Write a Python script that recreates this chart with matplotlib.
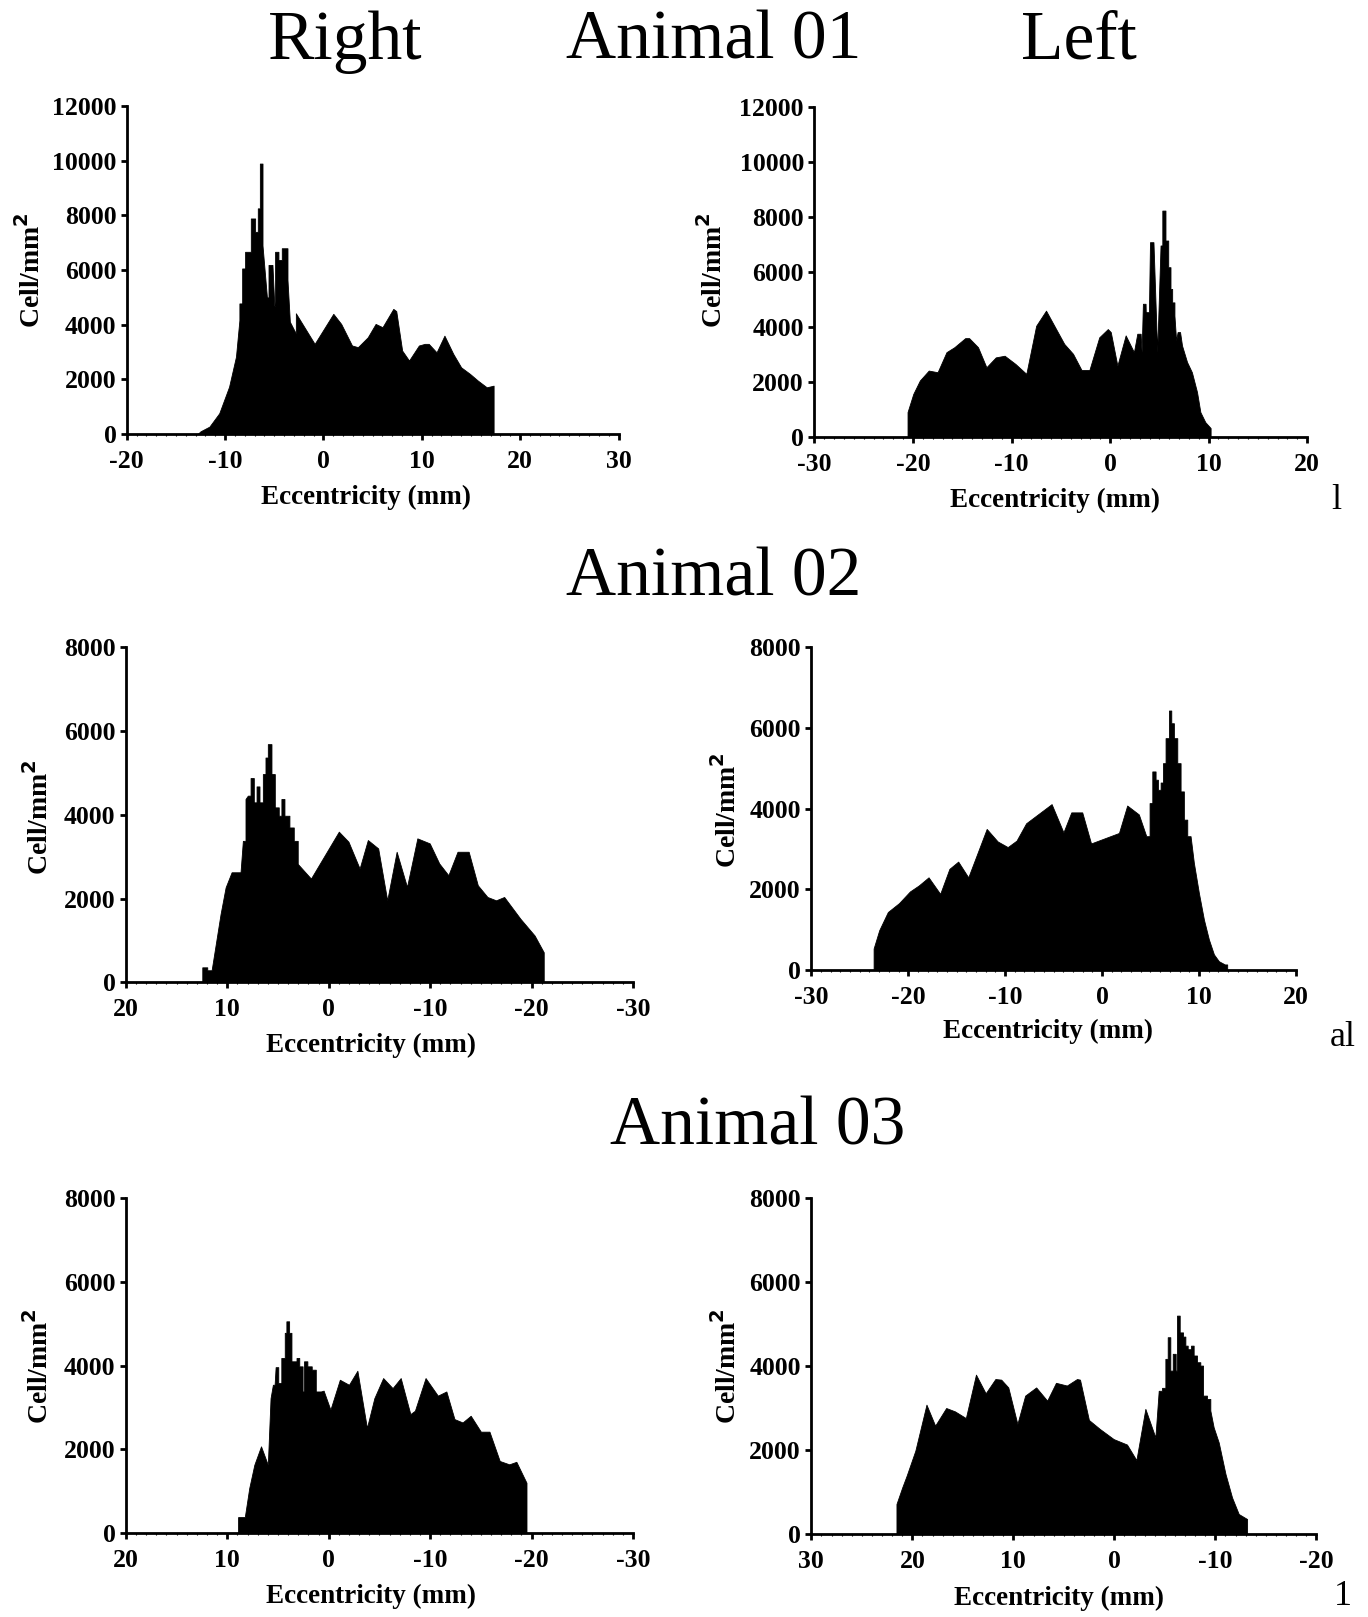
import matplotlib
matplotlib.use("Agg")
import matplotlib.pyplot as plt
from matplotlib.ticker import MultipleLocator

plt.rcParams['font.family'] = ['Liberation Serif', 'DejaVu Serif']
plt.rcParams['axes.unicode_minus'] = False

# ---------------- data (eccentricity mm, cells/mm^2) ----------------
a1_right_x = [-12.8, -12.5, -11.6, -10.6, -9.6, -8.9, -8.55, -8.55, -8.27, -8.27, -7.97, -7.97,
              -7.39, -7.39, -6.95, -6.95, -6.68, -6.68, -6.47, -6.47, -6.2, -6.2, -5.75, -5.59,
              -5.59, -5.19, -5.0, -4.92, -4.92, -4.58, -4.58, -4.24, -4.24, -3.66, -3.66, -3.42,
              -2.81, -2.81, -0.9, 1.0, 1.8, 2.9, 3.5, 4.5, 5.3, 6.0, 7.1, 7.4, 8.0, 8.7, 9.7,
              10.3, 10.7, 11.5, 12.3, 13.2, 14.0, 14.9, 15.7, 16.6, 17.3]
a1_right_y = [0, 100, 270, 760, 1730, 2830, 4170, 4780, 4780, 6060, 6060, 6670,
              6670, 7890, 7890, 7400, 7400, 8260, 8260, 9900, 9900, 6900, 5000, 5000,
              6190, 6190, 4700, 4700, 6670, 6670, 6370, 6370, 6800, 6800, 5640, 4110,
              3680, 4420, 3300, 4400, 4030, 3240, 3180, 3540, 4030, 3910, 4580, 4500, 3055, 2690, 3240,
              3300, 3300, 2990, 3600, 2930, 2440, 2200, 1955, 1710, 1770]

a1_left_x = [-20.55, -19.97, -19.3, -18.4, -17.5, -16.6, -15.8, -14.7, -14.3, -13.4, -12.55,
             -11.6, -10.7, -9.6, -8.5, -7.5, -6.5, -4.65, -3.76, -2.9, -2.1, -1.1, -0.23, 0.07,
             0.74, 1.58, 2.42, 2.76, 3.1, 3.2, 3.33, 3.6, 3.62, 3.94, 4.05, 4.4, 4.78, 5.12,
             5.3, 5.3, 5.62, 5.62, 5.9, 5.9, 6.13, 6.13, 6.3, 6.3, 6.53, 6.53, 6.7, 6.85,
             7.1, 7.3, 7.81, 8.3, 8.82, 9.16, 9.66, 10.2]
a1_left_y = [910, 1570, 2060, 2420, 2360, 3090, 3270, 3600, 3600, 3270, 2540,
             2900, 2960, 2660, 2300, 4050, 4600, 3390, 3030, 2440, 2440, 3630, 3930, 3820,
             2600, 3700, 3090, 3760, 3760, 3090, 4850, 4850, 4545, 4545, 7090, 7090, 3090, 6970,
             6970, 8240, 8240, 7150, 7150, 6180, 6180, 5390, 5390, 4900, 4900, 4420, 3515, 3820,
             3820, 3330, 2730, 2360, 1640, 910, 545, 330]

a2_right_x = [12.46, 11.97, 11.97, 11.54, 10.66, 10.16, 9.57, 8.69, 8.46, 8.2, 8.2, 7.97, 7.7,
              7.7, 7.38, 7.38, 7.11, 7.11, 6.82, 6.82, 6.49, 6.49, 6.23, 6.23, 6.0, 6.0, 5.64,
              5.64, 5.31, 5.31, 4.92, 4.92, 4.66, 4.66, 4.36, 4.36, 3.87, 3.87, 3.44, 3.44, 3.05,
              3.05, 2.64, 1.75, -1.0, -1.95, -3.05, -3.86, -4.88, -5.77, -6.7, -7.72, -8.74,
              -9.96, -10.9, -11.8, -12.7, -13.8, -14.7, -15.65, -16.5, -17.3, -18.9, -20.3, -21.2]
a2_right_y = [360, 360, 290, 290, 1630, 2270, 2630, 2630, 3380, 3380, 4380, 4460, 4460,
              4880, 4880, 4300, 4300, 4680, 4680, 4300, 4300, 4975, 4975, 5370, 5370, 5690, 5690,
              4975, 4975, 4180, 4180, 3980, 3980, 4380, 4380, 3980, 3980, 3700, 3700, 3380, 3380,
              2830, 2720, 2480, 3600, 3360, 2720, 3400, 3200, 1960, 3120, 2280, 3440,
              3320, 2840, 2560, 3120, 3120, 2320, 2040, 1960, 2040, 1520, 1120, 720]

a2_left_x = [-23.57, -22.99, -22.1, -20.95, -19.82, -18.9, -17.9, -16.7, -15.75, -14.84, -13.8,
             -11.9, -10.77, -9.73, -8.82, -7.83, -5.2, -3.98, -3.17, -2.04, -1.13, 1.75, 2.6,
             3.8, 4.57, 4.91, 4.91, 5.19, 5.19, 5.53, 5.53, 5.77, 5.77, 6.05, 6.05, 6.29, 6.29,
             6.56, 6.56, 6.91, 6.91, 7.15, 7.15, 7.42, 7.42, 7.77, 7.77, 8.11, 8.11, 8.45, 8.45,
             8.8, 8.8, 9.14, 9.48, 10.0, 10.52, 11.03, 11.55, 12.06, 12.68, 12.92]
a2_left_y = [535, 990, 1440, 1660, 1950, 2100, 2300, 1890, 2510, 2690, 2300,
             3500, 3190, 3050, 3210, 3640, 4115, 3415, 3910, 3910, 3140, 3400, 4080,
             3860, 3320, 3320, 4140, 4140, 4925, 4925, 4720, 4720, 4470, 4470, 4650, 4650, 5130,
             5130, 5750, 5750, 6435, 6435, 6120, 6120, 5750, 5750, 5130, 5130, 4430, 4430, 3730,
             3730, 3320, 3320, 2660, 1910, 1250, 760, 390, 220, 140, 140]

a3_right_x = [8.93, 8.27, 7.83, 7.33, 6.67, 6.0, 5.73, 5.5, 5.33, 5.23, 4.97, 4.97, 4.67, 4.67,
              4.33, 4.33, 4.17, 4.17, 3.9, 3.9, 3.67, 3.67, 3.17, 3.17, 2.9, 2.9, 2.57, 2.57,
              2.43, 2.43, 2.1, 2.1, 1.67, 1.67, 1.27, 1.27, 0.77, 0.5, -0.17, -1.1, -2.0, -2.83,
              -3.77, -4.5, -5.37, -6.3, -7.1, -8.05, -8.5, -9.55, -10.76, -11.6, -12.4, -13.2,
              -14.0, -15.0, -15.85, -16.86, -17.8, -18.5, -19.5]
a3_right_y = [380, 380, 1075, 1630, 2070, 1630, 3220, 3540, 3540, 3960, 3960, 3580, 3580, 4180,
              4180, 4780, 4780, 5055, 5055, 4780, 4780, 4100, 4100, 4180, 4180, 3980, 3980, 3380,
              3380, 4100, 4100, 3980, 3980, 3900, 3900, 3380, 3380, 3400, 2945, 3660, 3540, 3875,
              2510, 3220, 3700, 3460, 3700, 2840, 2920, 3700, 3280, 3380, 2720, 2640,
              2800, 2420, 2420, 1720, 1640, 1700, 1200]

a3_left_x = [21.57, 21.0, 20.56, 19.7, 18.6, 17.74, 16.65, 15.78, 14.7, 13.7, 12.74, 11.78, 11.2,
             10.5, 9.6, 8.83, 7.74, 6.65, 5.78, 4.7, 3.7, 3.4, 2.52, 1.43, 0.07, -1.25, -2.18,
             -3.07, -4.06, -4.39, -4.72, -4.72, -5.05, -5.05, -5.28, -5.28, -5.54, -5.54, -5.78,
             -5.78, -6.07, -6.07, -6.2, -6.2, -6.47, -6.47, -6.8, -6.8, -7.03, -7.03, -7.26,
             -7.26, -7.59, -7.59, -7.85, -7.85, -8.18, -8.18, -8.51, -8.51, -8.78, -8.78, -9.17,
             -9.17, -9.5, -9.5, -9.83, -10.33, -11.0, -11.65, -12.31, -13.14]
a3_left_y = [715, 1110, 1390, 1985, 3080, 2580, 3000, 2920, 2760, 3795, 3350, 3690, 3675,
             3490, 2620, 3295, 3490, 3175, 3600, 3535, 3690, 3675, 2715, 2500, 2260, 2130, 1760,
             2980, 2300, 3410, 3410, 3480, 3480, 4170, 4170, 4685, 4685, 3890, 3890,
             4290, 4290, 3890, 3890, 5200, 5200, 4800, 4800, 4700, 4700, 4485, 4485,
             4400, 4400, 4485, 4485, 4250, 4250, 4090, 4090, 4010, 4010, 3295, 3295,
             3215, 3215, 2940, 2540, 2180, 1430, 870, 476, 357]

panel_titles = ["Right", "Animal 01", "Left", "Animal 02", "Animal 03"]
xlabel = "Eccentricity (mm)"
ylabel = "Cell/mm$^\\mathbf{2}$"

# ---------------- layout ----------------
W, H = 1368, 1617
fig = plt.figure(figsize=(W / 100, H / 100), dpi=100)
fig.patch.set_facecolor('white')

def make_axes(x0, x1, yb, yt):
    return fig.add_axes([x0 / W, 1 - yb / H, (x1 - x0) / W, (yb - yt) / H])

panels = [
    (a1_right_x, a1_right_y, (126.8, 618.5, 434.0, 106.2), (-20, 30), (0, 12000), (31, 270), (366, 497)),
    (a1_left_x, a1_left_y, (814.4, 1307.2, 437.1, 107.2), (-30, 20), (0, 12000), (713, 270), (1055, 500)),
    (a2_right_x, a2_right_y, (125.8, 633.0, 982.4, 647.4), (20, -30), (0, 8000), (39, 817), (371, 1045)),
    (a2_left_x, a2_left_y, (811.3, 1295.8, 970.1, 647.4), (-30, 20), (0, 8000), (727, 810), (1048, 1031)),
    (a3_right_x, a3_right_y, (125.8, 633.0, 1533.0, 1198.0), (20, -30), (0, 8000), (39, 1366), (371, 1596)),
    (a3_left_x, a3_left_y, (811.3, 1316.4, 1534.0, 1198.0), (30, -20), (0, 8000), (727, 1366), (1059, 1598)),
]

for xs, ys, (x0, x1, yb, yt), xl, yl, ylpos, xlpos in panels:
    ax = make_axes(x0, x1, yb, yt)
    ax.fill_between(xs, ys, 0, color='black', linewidth=0.6, edgecolor='black')
    ax.set_xlim(*xl)
    ax.set_ylim(*yl)
    ax.set_facecolor('none')
    for s in ('top', 'right'):
        ax.spines[s].set_visible(False)
    for s in ('left', 'bottom'):
        ax.spines[s].set_linewidth(2.0)
    ax.xaxis.set_major_locator(MultipleLocator(10))
    ax.yaxis.set_major_locator(MultipleLocator(2000))
    ax.xaxis.set_minor_locator(MultipleLocator(1))
    ax.tick_params(axis='both', which='major', direction='out', length=4.5, width=2.0,
                   labelsize=18.5)
    ax.tick_params(axis='x', which='major', pad=7)
    ax.tick_params(axis='y', which='major', pad=3)
    ax.tick_params(axis='x', which='minor', direction='out', length=1.5, width=0.8)
    for lab in ax.get_xticklabels() + ax.get_yticklabels():
        lab.set_fontweight('bold')
    fig.text(ylpos[0] / W, 1 - ylpos[1] / H, ylabel, rotation=90, ha='center', va='center',
             fontsize=20, fontweight='bold')
    fig.text(xlpos[0] / W, 1 - xlpos[1] / H, xlabel, ha='center', va='center',
             fontsize=19.5, fontweight='bold')

# titles
title_pos = [(345, 42), (714, 42), (1079, 42), (714, 579), (758, 1128)]
for t, (px, py) in zip(panel_titles, title_pos):
    fig.text(px / W, 1 - py / H, t, ha='center', va='center', fontsize=50)

# stray cropped text fragments at the right edge of the original figure
for t, (px, py) in zip(["l", "al", "1"], [(1336, 500), (1343, 1038), (1343, 1596)]):
    fig.text(px / W, 1 - py / H, t, ha='center', va='center', fontsize=26)

fig.savefig("out.png", dpi=100, facecolor='white')
